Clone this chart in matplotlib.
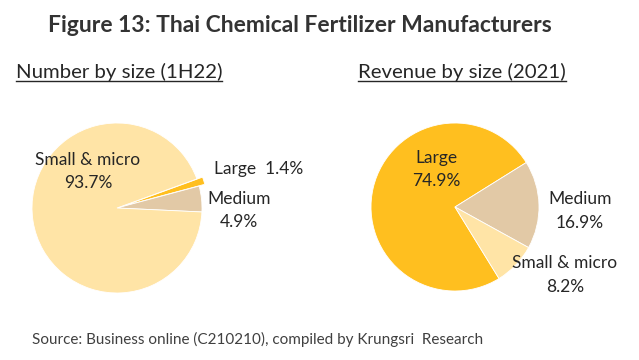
import matplotlib
matplotlib.use("Agg")
import matplotlib.pyplot as plt
from matplotlib.lines import Line2D

W, H = 639, 360
DPI = 100

title = "Figure 13: Thai Chemical Fertilizer Manufacturers"
source = "Source: Business online (C210210), compiled by Krungsri  Research"

left_title = "Number by size (1H22)"
left_cats = ["Large", "Medium", "Small & micro"]
left_vals = [1.4, 4.9, 93.7]

right_title = "Revenue by size (2021)"
right_cats = ["Large", "Medium", "Small & micro"]
right_vals = [74.9, 16.9, 8.2]

colors = {"Large": "#FFBF1F", "Medium": "#E2C9A6", "Small & micro": "#FFE4A6"}
TXT = "#262626"
FONT = ["Lato", "DejaVu Sans"]

fig = plt.figure(figsize=(W / DPI, H / DPI), dpi=DPI)
fig.patch.set_facecolor("white")


def px(x, y):
    return x / W, 1 - y / H


def pie_axes(cx, cy, r):
    ax = fig.add_axes([(cx - r) / W, (H - cy - r) / H, 2 * r / W, 2 * r / H])
    ax.set_xlim(-1, 1)
    ax.set_ylim(-1, 1)
    ax.axis("off")
    return ax


# left pie
axL = pie_axes(117, 208, 85)
axL.pie(left_vals, colors=[colors[c] for c in left_cats], startangle=20,
        counterclock=False, explode=[0.07, 0, 0], radius=1.0,
        wedgeprops=dict(linewidth=0.6, edgecolor="white"))
axL.set_xlim(-1, 1)
axL.set_ylim(-1, 1)

# right pie
axR = pie_axes(455, 207, 84)
axR.pie(right_vals, colors=[colors[c] for c in right_cats], startangle=301.6,
        counterclock=False, radius=1.0,
        wedgeprops=dict(linewidth=0.6, edgecolor="white"))
axR.set_xlim(-1, 1)
axR.set_ylim(-1, 1)

fs_lab = 12.5

def lab(x, y, s, ha="center"):
    fig.text(*px(x, y), s, ha=ha, va="center", fontsize=fs_lab, color=TXT,
             family=FONT, linespacing=1.55)

# left labels
lab(88, 171.5, f"{left_cats[2]}\n{left_vals[2]:.1f}%")
lab(214, 169, f"{left_cats[0]}  {left_vals[0]:.1f}%", ha="left")
lab(239, 210.5, f"{left_cats[1]}\n{left_vals[1]:.1f}%")
# right labels
lab(436, 169.5, f"{right_cats[0]}\n{right_vals[0]:.1f}%")
lab(580, 211, f"{right_cats[1]}\n{right_vals[1]:.1f}%")
lab(565, 275, f"{right_cats[2]}\n{right_vals[2]:.1f}%")

# title
fig.text(*px(300, 32), title, ha="center", va="baseline", fontsize=16.5,
         fontweight="bold", color="#333333", family=FONT)

# subtitles with underline
subs = []
subs.append(fig.text(*px(16, 78), left_title, ha="left", va="baseline",
                     fontsize=14.7, color=TXT, family=FONT))
subs.append(fig.text(*px(358, 78), right_title, ha="left", va="baseline",
                     fontsize=14.7, color=TXT, family=FONT))
fig.canvas.draw()
rend = fig.canvas.get_renderer()
for t in subs:
    bb = t.get_window_extent(rend)
    y = (H - 81) / H
    fig.add_artist(Line2D([bb.x0 / W, bb.x1 / W], [y, y], color=TXT,
                          linewidth=1.0, transform=fig.transFigure))

fig.text(*px(32, 344), source, ha="left", va="baseline", fontsize=11,
         color="#404040", family=FONT)

fig.savefig("out.png", dpi=DPI, facecolor="white")
